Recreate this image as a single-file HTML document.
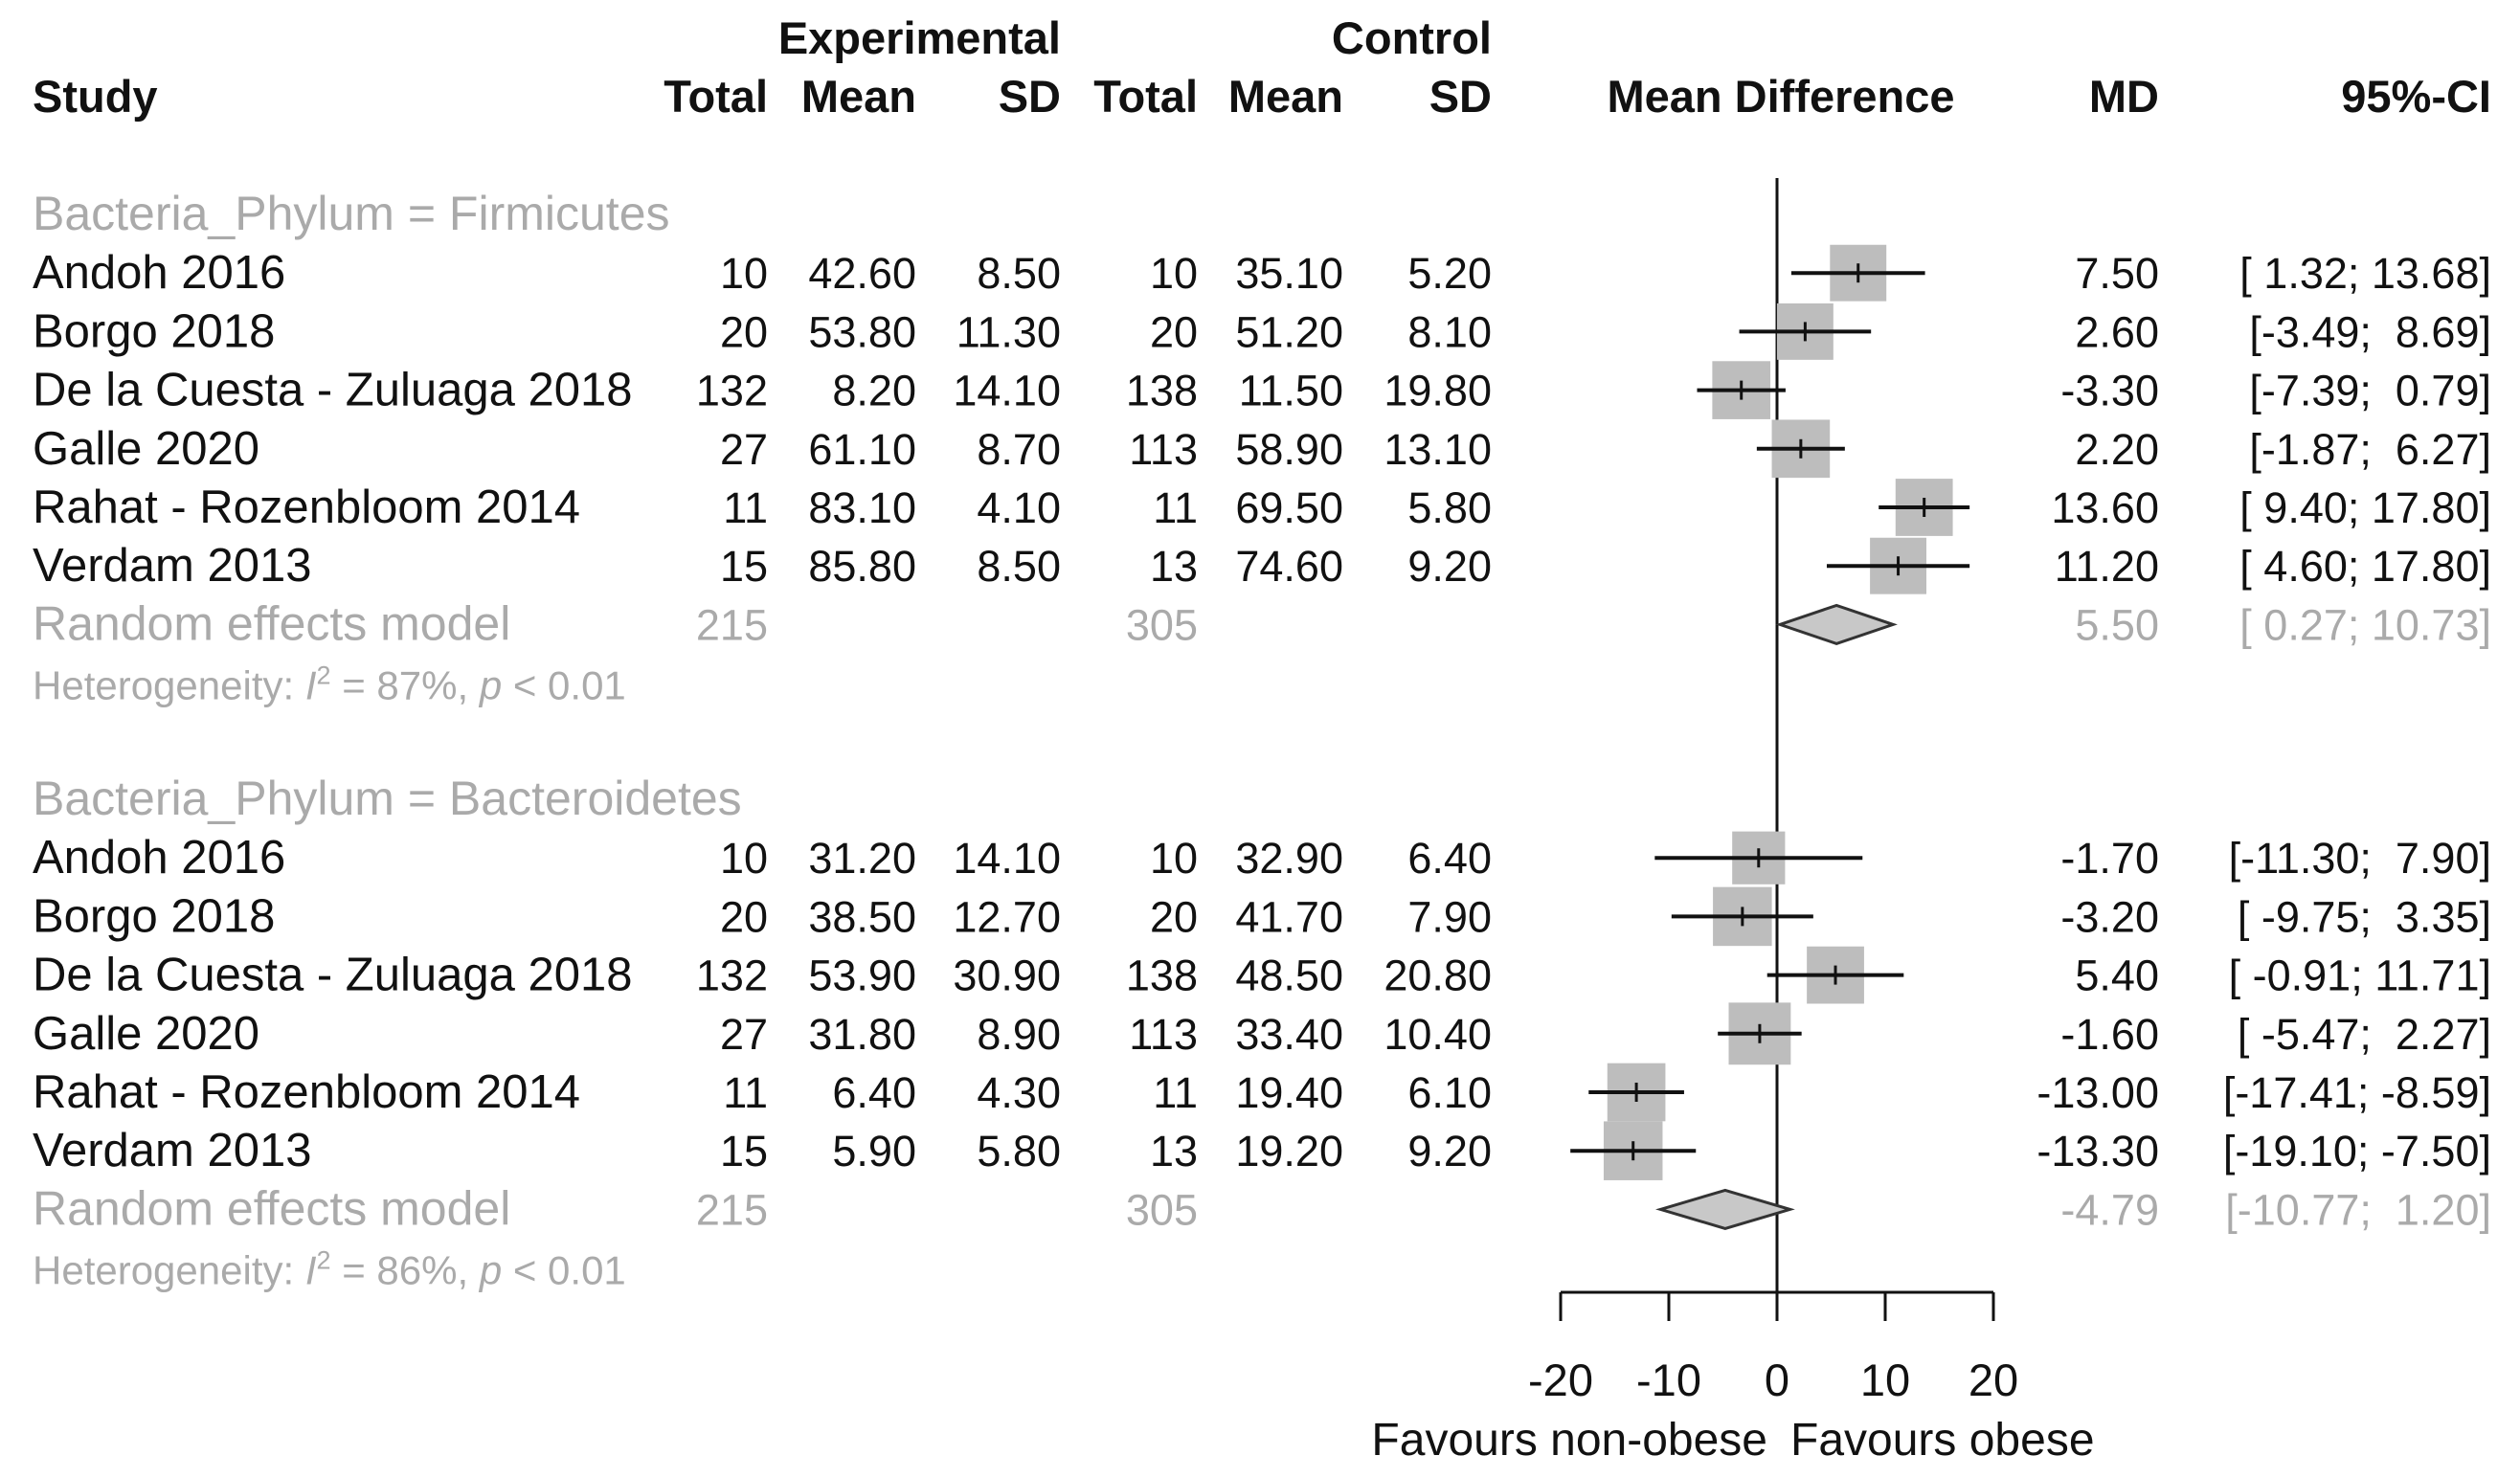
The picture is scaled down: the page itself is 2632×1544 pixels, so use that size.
<!DOCTYPE html>
<html><head><meta charset="utf-8"><style>
html,body{margin:0;padding:0;background:#fff;}
svg{display:block;font-family:"Liberation Sans",Arial,sans-serif;}
text{white-space:pre;}
</style></head><body>
<svg id="chart" width="2632" height="1544" viewBox="0 0 2632 1544" xmlns="http://www.w3.org/2000/svg">
<g id="hdr" font-weight="bold" font-size="47" fill="#111">
<text x="1108" y="56" text-anchor="end">Experimental</text>
<text x="1558" y="56" text-anchor="end">Control</text>
<text x="34" y="117">Study</text>
<text x="802" y="117" text-anchor="end">Total</text>
<text x="957" y="117" text-anchor="end">Mean</text>
<text x="1108" y="117" text-anchor="end">SD</text>
<text x="1251" y="117" text-anchor="end">Total</text>
<text x="1403" y="117" text-anchor="end">Mean</text>
<text x="1558" y="117" text-anchor="end">SD</text>
<text x="1860" y="117" text-anchor="middle">Mean Difference</text>
<text x="2255" y="117" text-anchor="end">MD</text>
<text x="2602" y="117" text-anchor="end">95%-CI</text>
</g>
<g id="body"></g>
</svg>
<script>
const studies = ["Andoh 2016","Borgo 2018","De la Cuesta - Zuluaga 2018","Galle 2020","Rahat - Rozenbloom 2014","Verdam 2013"];
const groups = ["Firmicutes","Bacteroidetes"];
const expTotal = [[10,20,132,27,11,15],[10,20,132,27,11,15]];
const expMean = [["42.60","53.80","8.20","61.10","83.10","85.80"],["31.20","38.50","53.90","31.80","6.40","5.90"]];
const expSD = [["8.50","11.30","14.10","8.70","4.10","8.50"],["14.10","12.70","30.90","8.90","4.30","5.80"]];
const ctrlTotal = [[10,20,138,113,11,13],[10,20,138,113,11,13]];
const ctrlMean = [["35.10","51.20","11.50","58.90","69.50","74.60"],["32.90","41.70","48.50","33.40","19.40","19.20"]];
const ctrlSD = [["5.20","8.10","19.80","13.10","5.80","9.20"],["6.40","7.90","20.80","10.40","6.10","9.20"]];
const md = [[7.50,2.60,-3.30,2.20,13.60,11.20],[-1.70,-3.20,5.40,-1.60,-13.00,-13.30]];
const lower = [[1.32,-3.49,-7.39,-1.87,9.40,4.60],[-11.30,-9.75,-0.91,-5.47,-17.41,-19.10]];
const upper = [[13.68,8.69,0.79,6.27,17.80,17.80],[7.90,3.35,11.71,2.27,-8.59,-7.50]];
const weights = [[16.5,16.5,17.5,17.5,17,16.5],[14.5,18,17,20,17.5,18]];
const pooledMD = [5.50,-4.79];
const pooledLo = [0.27,-10.77];
const pooledHi = [10.73,1.20];
const pooledTotals = [[215,305],[215,305]];
const hetI2 = ["87%","86%"];
const ticks = [-20,-10,0,10,20];

const NS="http://www.w3.org/2000/svg";
const body=document.getElementById('body');
const x0=1856, ux=11.3;
function X(v){return x0+v*ux;}
function mk(tag,attrs,parent){const e=document.createElementNS(NS,tag);for(const k in attrs)e.setAttribute(k,attrs[k]);(parent||body).appendChild(e);return e;}
function txt(s,x,y,anchor,fill,size,name){const t=mk('text',{x:x,y:y,'text-anchor':anchor,fill:fill,'font-size':size});t.textContent=s;


return t;}
function fmt(v){return v.toFixed(2);}

const groupTop=[224,835], rowH=61.2;
const gray="#aaaaaa", dark="#111";
const zl=mk('line',{x1:X(0),x2:X(0),y1:186,y2:1350,stroke:dark,'stroke-width':3});



groups.forEach((g,gi)=>{
  const gy=groupTop[gi];
  const allLo=lower[gi].concat([pooledLo[gi]]).map(fmt), allHi=upper[gi].concat([pooledHi[gi]]).map(fmt);
  const wl=Math.max(...allLo.map(s=>s.length)), wh=Math.max(...allHi.map(s=>s.length));
  const ci=(k)=>"["+allLo[k].padStart(wl," ")+"; "+allHi[k].padStart(wh," ")+"]";
  txt("Bacteria_Phylum = "+g,34,gy+16,'start',gray,50,'subgroup-label');
  studies.forEach((s,i)=>{
    const y=gy+rowH*(i+1), ty=y+16;
    txt(s,34,ty,'start',dark,49,'study-name');
    txt(String(expTotal[gi][i]),802,ty,'end',dark,45,'exp-total');
    txt(expMean[gi][i],957,ty,'end',dark,45,'exp-mean');
    txt(expSD[gi][i],1108,ty,'end',dark,45,'exp-sd');
    txt(String(ctrlTotal[gi][i]),1251,ty,'end',dark,45,'ctrl-total');
    txt(ctrlMean[gi][i],1403,ty,'end',dark,45,'ctrl-mean');
    txt(ctrlSD[gi][i],1558,ty,'end',dark,45,'ctrl-sd');
    txt(fmt(md[gi][i]),2255,ty,'end',dark,45,'md-value');
    txt(ci(i),2602,ty,'end',dark,45,'ci-value');
    const side=14.5*Math.sqrt(weights[gi][i]);
    const sq=mk('rect',{x:X(md[gi][i])-side/2,y:y-side/2,width:side,height:side,fill:'#bdbdbd'});
    
    
    const ln=mk('line',{x1:X(lower[gi][i]),x2:X(upper[gi][i]),y1:y,y2:y,stroke:dark,'stroke-width':4});
    
    
    const tk=mk('line',{x1:X(md[gi][i]),x2:X(md[gi][i]),y1:y-10,y2:y+10,stroke:dark,'stroke-width':3});
    
    
  });
  const ry=gy+rowH*7, rty=ry+16;
  txt("Random effects model",34,rty,'start',gray,50,'random-effects-label');
  txt(String(pooledTotals[gi][0]),802,rty,'end',gray,45,'pooled-exp-total');
  txt(String(pooledTotals[gi][1]),1251,rty,'end',gray,45,'pooled-ctrl-total');
  txt(fmt(pooledMD[gi]),2255,rty,'end',gray,45,'pooled-md');
  txt(ci(6),2602,rty,'end',gray,45,'pooled-ci');
  const d=mk('polygon',{points:[X(pooledLo[gi])+","+ry,X(pooledMD[gi])+","+(ry-20),X(pooledHi[gi])+","+ry,X(pooledMD[gi])+","+(ry+20)].join(" "),fill:'#c8c8c8',stroke:'#333','stroke-width':3});
  
  
  const h=mk('text',{x:34,y:ry+78,fill:gray,'font-size':42});
  
  
  h.innerHTML='Heterogeneity: <tspan font-style="italic">I</tspan><tspan dy="-16" font-size="27">2</tspan><tspan dy="16"> = '+hetI2[gi]+', </tspan><tspan font-style="italic">p</tspan> &lt; 0.01';
});

const ax=mk('line',{x1:X(ticks[0]),x2:X(ticks[ticks.length-1]),y1:1350,y2:1350,stroke:dark,'stroke-width':3});


ticks.forEach(t=>{
  const l=mk('line',{x1:X(t),x2:X(t),y1:1350,y2:1380,stroke:dark,'stroke-width':3});
  
  
  txt(String(t),X(t),1458,'middle',dark,47,'x-tick-label');
});
txt("Favours non-obese",X(0)-10,1520,'end',dark,48,'favours-non-obese-label');
txt("Favours obese",X(0)+14,1520,'start',dark,48,'favours-obese-label');
</script>
</body></html>
